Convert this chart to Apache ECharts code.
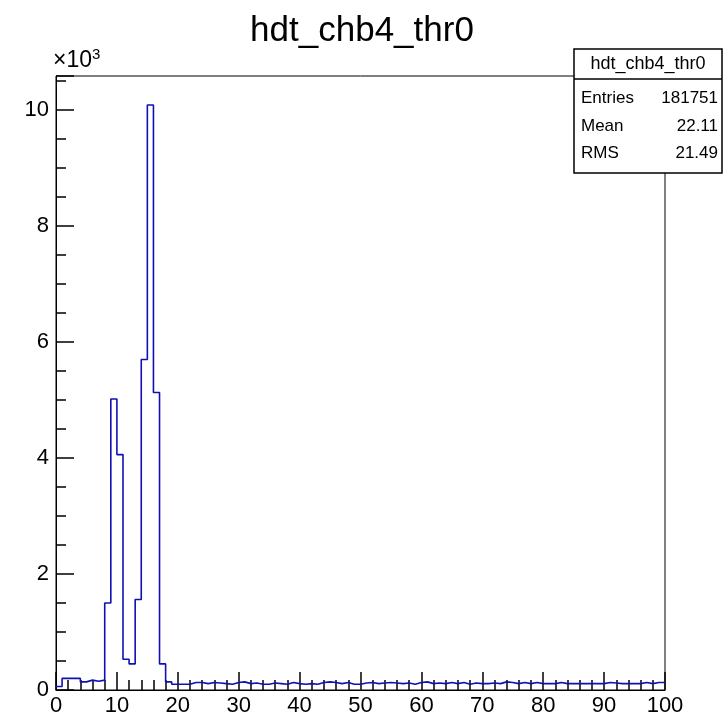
<!DOCTYPE html>
<html>
<head>
<meta charset="utf-8">
<script src="https://cdn.jsdelivr.net/npm/echarts@6/dist/echarts.min.js"></script>
<style>
  html,body{margin:0;padding:0;background:#fff}
  #chart{width:724px;height:717px}
</style>
</head>
<body>
<div id="chart"></div>
<script>
// 直方图 hdt_chb4_thr0:100 个 bin,宽 1,计数读自原图
const title = 'hdt_chb4_thr0'
const binLo = 0
const binWidth = 1
const counts = [
  60, 200, 200, 200, 140, 170, 150, 170, 1500, 5020,
  4060, 530, 450, 1560, 5700, 10090, 5130, 450, 140, 100,
  100, 100, 130, 130, 110, 130, 120, 110, 100, 130,
  140, 110, 120, 100, 100, 120, 110, 100, 130, 110,
  100, 110, 100, 130, 140, 130, 110, 130, 100, 100,
  120, 130, 110, 120, 130, 120, 110, 120, 100, 130,
  140, 110, 120, 110, 130, 110, 130, 100, 120, 110,
  110, 120, 110, 140, 130, 110, 130, 110, 130, 110,
  110, 110, 130, 110, 110, 110, 110, 110, 110, 110,
  130, 120, 110, 110, 110, 110, 130, 110, 130, 130
]
const statNames = ['Entries', 'Mean', 'RMS']
const statValues = ['181751', '22.11', '21.49']
const xTicks = [0, 10, 20, 30, 40, 50, 60, 70, 80, 90, 100]
const yTicks = [0, 2, 4, 6, 8, 10]   // ×10^3

const FONT = '"Liberation Sans", Arial, sans-serif'
const LEFT = 56, RIGHT = 665, TOP = 76, BOTTOM = 690
const yMax = 10.59

// 阶梯线:每个 bin 左边缘一个点,最后补右边缘
const steps = counts.map((c, i) => [binLo + i*binWidth, c/1000])
steps.push([binLo + counts.length*binWidth, counts[counts.length-1]/1000])

const chart = echarts.init(document.getElementById('chart'), null, {renderer:'canvas'})

const lbl = {color:'#000', fontFamily:FONT, fontSize:22}
const statRows = statNames.map((n, i) => {
  const y = 100 + i*27.5
  return [
    {type:'text', left:581, top:y-10, style:{text:n, font:'17px '+FONT, fill:'#000'}},
    {type:'text', right:6, top:y-10, style:{text:statValues[i], font:'17px '+FONT, fill:'#000', align:'right'}}
  ]
}).flat()

chart.setOption({
  backgroundColor:'#fff',
  animation:false,
  grid:{left:LEFT, right:724-RIGHT, top:TOP, bottom:717-BOTTOM, show:true, borderColor:'#000', borderWidth:1},
  title:{text:title, left:'center', top:9, textStyle:{fontFamily:FONT, fontSize:35, fontWeight:'normal', color:'#000'}},
  xAxis:{
    type:'value', min:xTicks[0], max:xTicks[xTicks.length-1], interval:10,
    axisLine:{lineStyle:{color:'#000', width:1}},
    axisTick:{inside:true, length:18, lineStyle:{color:'#000', width:1.5}},
    minorTick:{show:true, splitNumber:5, length:10, lineStyle:{color:'#000', width:1.5}},
    splitLine:{show:false},
    axisLabel:{...lbl, margin:5}
  },
  yAxis:[{
    type:'value', min:0, max:yMax, interval:0.5,
    axisLine:{lineStyle:{color:'#000', width:1}},
    axisTick:{inside:true, length:10, lineStyle:{color:'#000', width:1.5}},
    splitLine:{show:false},
    axisLabel:{...lbl, margin:7, showMaxLabel:false,
      formatter: v => yTicks.includes(v) ? String(v) : ''}
  },{
    type:'value', min:0, max:yMax, interval:2, position:'left',
    axisLine:{show:false},
    axisTick:{inside:true, length:18, lineStyle:{color:'#000', width:1.5}},
    splitLine:{show:false},
    axisLabel:{show:false}
  }],
  series:[{
    type:'line', step:'end', data:steps, showSymbol:false, clip:true,
    lineStyle:{color:'#1010b4', width:1.6}
  }],
  graphic:[
    {type:'text', left:53, top:47, style:{text:'×10{s|3}', font:'23px '+FONT, fill:'#000',
      rich:{s:{fontSize:15, verticalAlign:'top', padding:[0,0,12,0], fontFamily:FONT}}}},
    {type:'rect', shape:{x:574, y:49, width:148, height:124}, style:{fill:'#fff', stroke:'#000', lineWidth:1.5}, z:10},
    {type:'line', shape:{x1:574, y1:79, x2:722, y2:79}, style:{stroke:'#000', lineWidth:1.5}, z:11},
    {type:'text', x:648, y:64, style:{text:title, font:'18px '+FONT, fill:'#000', align:'center', verticalAlign:'middle'}, z:11},
    ...statRows.map(g => ({...g, z:11}))
  ]
})
</script>
</body>
</html>
